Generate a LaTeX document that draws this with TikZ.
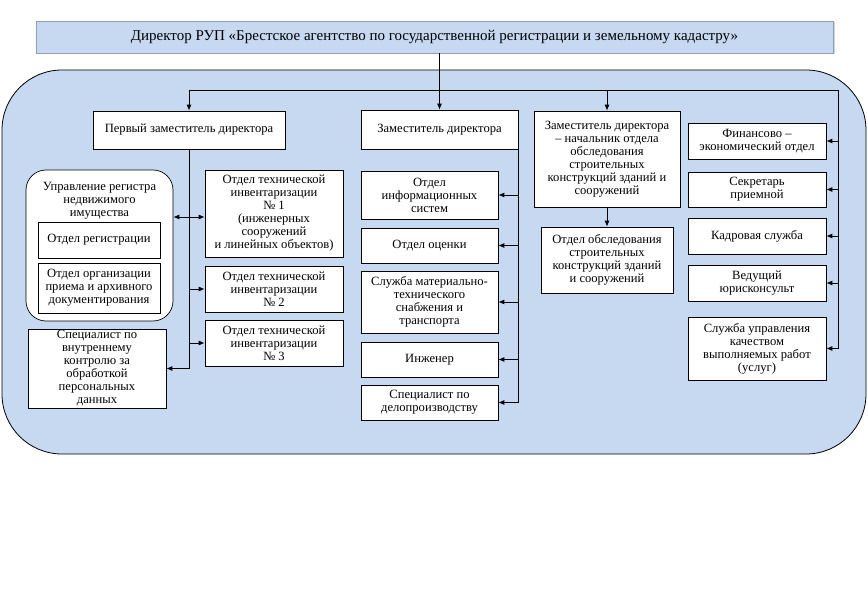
\documentclass[tikz,border=0pt]{standalone}
\usepackage{fontspec}
\setmainfont{Liberation Serif}
\usetikzlibrary{arrows.meta, positioning, shadows}

\definecolor{areablue}{RGB}{198,217,241}
\definecolor{edgegray}{RGB}{140,160,190}

\tikzset{
  unit/.style={draw=black, fill=white, line width=0.7pt, align=center, inner sep=1pt,
    font=\fontsize{12.6}{13}\selectfont},
  titlebox/.style={draw=edgegray, fill=areablue, line width=0.8pt, align=center,
    font=\fontsize{15}{17}\selectfont,
    drop shadow={shadow xshift=1.5pt, shadow yshift=-1.5pt, opacity=0.35}},
  wire/.style={line width=0.8pt},
  link/.style={line width=0.8pt, -{Latex[length=6pt, width=5pt]}},
  twoway/.style={line width=0.8pt, {Latex[length=6pt, width=5pt]}-{Latex[length=6pt, width=5pt]}},
}

\begin{document}
\begin{tikzpicture}[x=1pt, y=-1pt]
\useasboundingbox (0,0) rectangle (868,596);

% Outer area (blue rounded field)
\draw[fill=areablue, line width=0.8pt, rounded corners=60pt] (2,70) rectangle (866,454);

% Director
\node[titlebox, minimum width=797, minimum height=32] (dir) at (434.5,37)
  {Директор РУП «Брестское агентство по государственной регистрации и земельному кадастру»};

% Deputies
\node[unit, minimum width=192, minimum height=38] (zam1) at (189,130) {Первый заместитель директора};
\node[unit, minimum width=157, minimum height=39] (zam2) at (439.5,129.5) {Заместитель директора};
\node[unit, minimum width=146, minimum height=96] (zam3) at (607,159)
  {Заместитель директора\\– начальник отдела\\обследования\\строительных\\конструкций зданий и\\сооружений};

% Left column
\node[unit, rounded corners=20pt, minimum width=147, minimum height=151] (upr) at (99.5,245.5) {};
\node[align=center, inner sep=0pt, font=\fontsize{12.6}{13}\selectfont] (uprtxt) at (99.5,201)
  {Управление регистра\\недвижимого\\имущества};
\node[unit, minimum width=122, minimum height=36] (reg) at (99,240) {Отдел регистрации};
\node[unit, minimum width=122, minimum height=50] (arch) at (99,288)
  {Отдел организации\\приема и архивного\\документирования};
\node[unit, minimum width=138, minimum height=79] (spec) at (97,368.5)
  {Специалист по\\внутреннему\\контролю за\\обработкой\\персональных\\данных};

\node[unit, minimum width=138, minimum height=87] (oti1) at (274,213.5)
  {Отдел технической\\инвентаризации\\№ 1\\(инженерных\\сооружений\\и линейных объектов)};
\node[unit, minimum width=138, minimum height=46] (oti2) at (274,289)
  {Отдел технической\\инвентаризации\\№ 2};
\node[unit, minimum width=138, minimum height=46] (oti3) at (274,343)
  {Отдел технической\\инвентаризации\\№ 3};

% Middle column
\node[unit, minimum width=137, minimum height=48] (info) at (429.5,195) {Отдел\\информационных\\систем};
\node[unit, minimum width=137, minimum height=35] (ocen) at (429.5,245.5) {Отдел оценки};
\node[unit, minimum width=137, minimum height=62] (snab) at (429.5,302)
  {Служба материально-\\технического\\снабжения и\\транспорта};
\node[unit, minimum width=137, minimum height=35] (ing) at (429.5,359.5) {Инженер};
\node[unit, minimum width=137, minimum height=35] (delo) at (429.5,402.5) {Специалист по\\делопроизводству};

\node[unit, minimum width=132, minimum height=66] (obsl) at (607,260)
  {Отдел обследования\\строительных\\конструкций зданий\\и сооружений};

% Right column
\node[unit, minimum width=138, minimum height=36] (fin) at (757,141) {Финансово –\\экономический отдел};
\node[unit, minimum width=138, minimum height=35] (sekr) at (757,189.5) {Секретарь\\приемной};
\node[unit, minimum width=138, minimum height=36] (kadr) at (757,236) {Кадровая служба};
\node[unit, minimum width=138, minimum height=36] (jur) at (757,283) {Ведущий\\юрисконсульт};
\node[unit, minimum width=138, minimum height=63] (kach) at (757,348.5)
  {Служба управления\\качеством\\выполняемых работ\\(услуг)};

% Top bus
\coordinate (busR) at (838,90);
\coordinate (hub) at (189,217);
\draw[link] (zam2.north |- dir.south) -- (zam2.north);
\draw[link] (busR) -| (zam1.north);
\draw[link] (zam3.north |- busR) -- (zam3.north);

% Right column links
\draw[wire] (busR) -- (busR |- kach.east);
\foreach \n in {fin,sekr,kadr,jur,kach}
{
    \draw[link] (busR |- \n.east) -- (\n.east);
}

% Middle column links
\draw[wire] (zam2.south east) -- (zam2.south east |- delo.east);
\foreach \n in {info,ocen,snab,ing,delo}
{
    \draw[link] (zam2.south east |- \n.east) -- (\n.east);
}
\draw[link] (zam3.south) -- (obsl.north);

% Left column links
\draw[wire] (zam1.south) -- (zam1.south |- spec.east);
\draw[twoway] (upr.east |- hub) -- (oti1.west |- hub);
\foreach \n in {oti2,oti3}
{
    \draw[link] (zam1.south |- \n.west) -- (\n.west);
}
\draw[link] (zam1.south |- spec.east) -- (spec.east);

\end{tikzpicture}
\end{document}
